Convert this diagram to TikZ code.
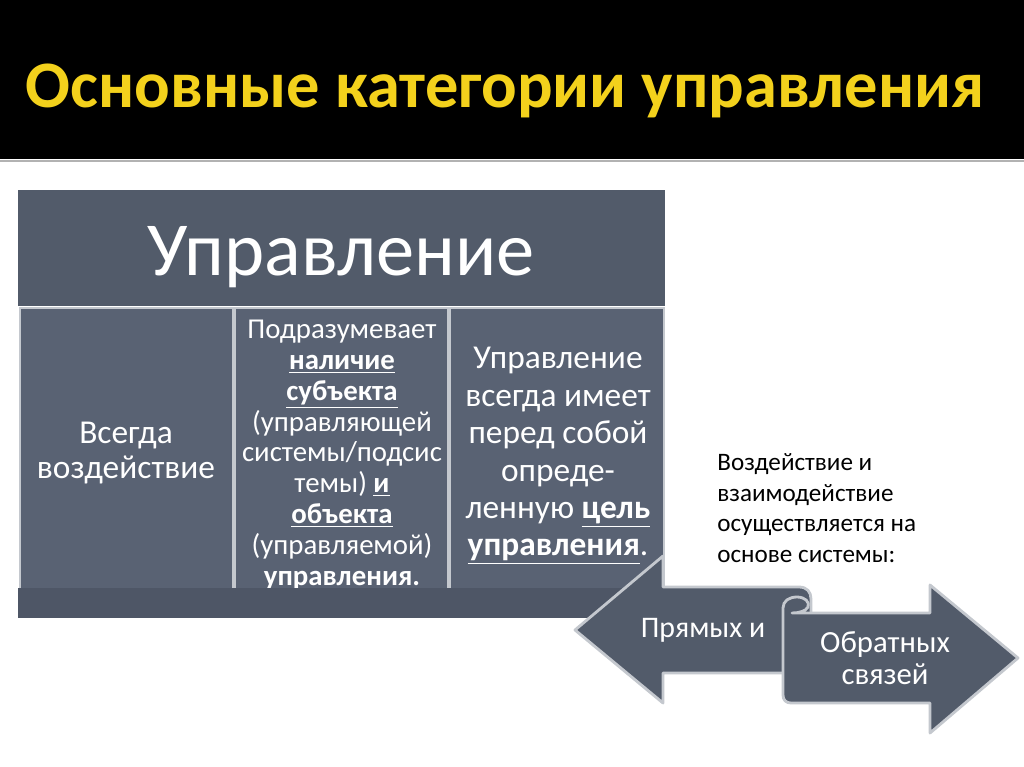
\documentclass[tikz,border=0pt]{standalone}
\usepackage{fontspec}
\setmainfont{Carlito}
\usepackage{tikz}

\definecolor{slate}{HTML}{525B6A}
\definecolor{slatecol}{HTML}{596273}
\definecolor{slateband}{HTML}{4E5666}
\definecolor{rim}{HTML}{C4C8CE}
\definecolor{titleyellow}{HTML}{F3D11C}

\begin{document}
\begin{tikzpicture}[x=0.02cm,y=-0.02cm,
    colbox/.style={fill=slatecol,draw=rim,line width=1.2pt},
    arrowbox/.style={fill=slate,draw=rim,line width=1.6pt,line join=round},
    celltext/.style={text=white,align=center,inner sep=0pt}]
    \useasboundingbox (0,0) rectangle (1024,767);
    \fill[white] (0,0) rectangle (1024,767);
    \fill[black] (0,0) rectangle (1024,159);
    \draw[line width=1.5pt,black!30] (0,161) to (1024,161);
    \node[text=titleyellow,anchor=base,inner sep=0pt,font=\fontsize{37.8}{40}\selectfont\bfseries](title)at(505,108){Основные категории управления};

    % table
    \fill[slate] (18,190) rectangle (665,306);
    \node[text=white,anchor=base,inner sep=0pt,font=\fontsize{43.5}{46}\selectfont](head)at(341,275){Управление};
    \draw[colbox] (20,308) rectangle (233,600);
    \draw[colbox] (235,308) rectangle (448,600);
    \draw[colbox] (450,308) rectangle (664,600);

    \node[celltext,font=\fontsize{19}{20.4}\selectfont](always)at(126,453){Всегда\\воздействие};
    \node[celltext,font=\fontsize{16.4}{17.6}\selectfont](subject)at(342,455){Подразумевает\\
      \underline{\textbf{наличие}}\\
      \underline{\textbf{субъекта}}\\
      (управляющей\\
      системы/подсис\\
      темы) \underline{\textbf{и}}\\
      \underline{\textbf{объекта}}\\
      (управляемой)\\
      \textbf{управления.}};
    \node[celltext,font=\fontsize{19}{21.3}\selectfont](goal)at(558,456){Управление\\
      всегда имеет\\
      перед собой\\
      опреде-\\
      ленную \underline{\textbf{цель}}\\
      \underline{\textbf{управления}}.};
    \fill[slateband] (18,588) rectangle (664,618);

    % arrows
    \draw[arrowbox] (575,630) -- (663,556) -- (663,587) -- (799,587)
      .. controls (807,587) and (811,592) .. (811,599) -- (811,673)
      -- (663,673) -- (663,703) -- cycle;
    \draw[arrowbox] (792,613) -- (930,613) -- (930,585) -- (1018,658)
      -- (930,733) -- (930,703) -- (791,703)
      .. controls (786,703) and (783,700) .. (783,695) -- (783,608)
      .. controls (783,601) and (789,597) .. (797,597)
      .. controls (805,597) and (810,602) .. (808,607)
      .. controls (806,611) and (799,613) .. (792,613) -- cycle;
    \node[celltext,font=\fontsize{17}{18}\selectfont](direct)at(703,630){Прямых и};
    \node[celltext,font=\fontsize{17.5}{18.2}\selectfont](feedback)at(885,658){Обратных\\связей};

    \node[anchor=west,align=left,inner sep=0pt,font=\fontsize{14.3}{17.4}\selectfont](note)at(717,508){Воздействие и\\
      взаимодействие\\
      осуществляется на\\
      основе системы:};
\end{tikzpicture}
\end{document}
